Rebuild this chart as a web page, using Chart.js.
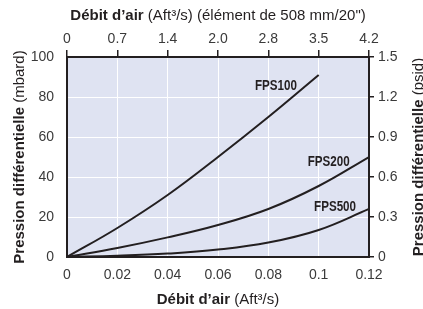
<!DOCTYPE html>
<html>
<head>
<meta charset="utf-8">
<script src="https://cdn.jsdelivr.net/npm/chart.js@4/dist/chart.umd.min.js"></script>
<style>
    html, body { margin: 0; padding: 0; background: #fff; }
    #wrap { width: 423px; height: 309px; position: relative; }
</style>
</head>
<body>
<div id="wrap"><canvas id="pressureChart"></canvas></div>
<script>
// Air flow values (Aft3/s) where each curve was read
const flowFps100 = [0, 0.02, 0.04, 0.06, 0.08, 0.1];
const dpFps100 = [0, 14.5, 31, 50, 70, 91];

const flowFps200 = [0, 0.02, 0.04, 0.06, 0.08, 0.1, 0.12];
const dpFps200 = [0, 4.5, 9.8, 16, 24, 35.5, 50];

const flowFps500 = [0, 0.02, 0.04, 0.06, 0.08, 0.1, 0.12];
const dpFps500 = [0, 0.6, 1.7, 3.7, 7.2, 13.5, 24];

const seriesNames = ['FPS100', 'FPS200', 'FPS500'];
// label anchor in data units (flow, mbard)
const labelFlow = [0.083, 0.104, 0.1065];
const labelDp = [85.5, 47.5, 25];

const bottomTicks = ['0', '0.02', '0.04', '0.06', '0.08', '0.1', '0.12'];
const topTicks = ['0', '0.7', '1.4', '2.0', '2.8', '3.5', '4.2'];
const rightTicks = ['0', '0.3', '0.6', '0.9', '1.2', '1.5'];

const ink = '#231f20';
const tickColor = '#3a3a3a';
const sans = "'Liberation Sans', Arial, sans-serif";

function toPoints(xs, ys) {
    return xs.map((x, i) => ({ x: x, y: ys[i] }));
}

function drawMixed(ctx, parts, cx, cy) {
    // parts: [[text, bold], ...] drawn centred on cx
    let total = 0;
    parts.forEach(p => {
        ctx.font = (p[1] ? 'bold ' : '') + '15px ' + sans;
        total += ctx.measureText(p[0]).width;
    });
    let x = cx - total / 2;
    parts.forEach(p => {
        ctx.font = (p[1] ? 'bold ' : '') + '15px ' + sans;
        ctx.fillText(p[0], x, cy);
        x += ctx.measureText(p[0]).width;
    });
}

const plotBg = {
    id: 'plotBg',
    beforeDraw(chart) {
        const { ctx, chartArea: a } = chart;
        ctx.save();
        ctx.fillStyle = '#dfe3f2';
        ctx.fillRect(a.left, a.top, a.right - a.left, a.bottom - a.top);
        ctx.restore();
    }
};

const annotations = {
    id: 'annotations',
    afterDraw(chart) {
        const { ctx, chartArea: a } = chart;
        const xs = chart.scales.x, ys = chart.scales.y;
        ctx.save();
        ctx.fillStyle = ink;
        ctx.textBaseline = 'middle';

        // curve names, squeezed to look condensed
        ctx.font = 'bold 14px ' + sans;
        ctx.textAlign = 'center';
        seriesNames.forEach((n, i) => {
            ctx.save();
            ctx.translate(xs.getPixelForValue(labelFlow[i]), ys.getPixelForValue(labelDp[i]));
            ctx.scale(0.83, 1);
            ctx.fillText(n, 0, 0);
            ctx.restore();
        });
        ctx.textAlign = 'left';

        const cx = (a.left + a.right) / 2;
        const cy = (a.top + a.bottom) / 2;
        drawMixed(ctx, [['Débit d’air', true], [' (Aft³/s) (élément de 508 mm/20")', false]], cx, 16);
        drawMixed(ctx, [['Débit d’air', true], [' (Aft³/s)', false]], cx, 300);

        ctx.save();
        ctx.translate(20, cy);
        ctx.rotate(-Math.PI / 2);
        drawMixed(ctx, [['Pression différentielle', true], [' (mbard)', false]], 0, 0);
        ctx.restore();

        ctx.save();
        ctx.translate(419, cy);
        ctx.rotate(-Math.PI / 2);
        drawMixed(ctx, [['Pression différentielle', true], [' (psid)', false]], 0, 0);
        ctx.restore();

        ctx.restore();
    }
};

function lineSet(name, xs, ys) {
    return {
        label: name,
        data: toPoints(xs, ys),
        borderColor: ink,
        borderWidth: 2,
        pointRadius: 0,
        fill: false,
        tension: 0.4
    };
}

const tickFont = { family: sans, size: 14 };

new Chart(document.getElementById('pressureChart'), {
    type: 'line',
    data: {
        datasets: [
            lineSet('FPS100', flowFps100, dpFps100),
            lineSet('FPS200', flowFps200, dpFps200),
            lineSet('FPS500', flowFps500, dpFps500)
        ]
    },
    options: {
        responsive: true,
        maintainAspectRatio: false,
        animation: false,
        layout: { padding: 0 },
        plugins: { legend: { display: false }, tooltip: { enabled: false } },
        scales: {
            x: {
                type: 'linear', position: 'bottom', min: 0, max: 0.12,
                ticks: { stepSize: 0.02, padding: 10, color: tickColor, font: tickFont, maxRotation: 0,
                    callback: (v, i) => bottomTicks[i] },
                grid: { color: '#ffffff', lineWidth: 1, drawTicks: false },
                border: { color: ink, width: 2 },
                afterFit: s => { s.height = 52; }
            },
            x2: {
                type: 'linear', position: 'top', min: 0, max: 0.12,
                ticks: { stepSize: 0.02, padding: 2, color: tickColor, font: tickFont, maxRotation: 0,
                    callback: (v, i) => topTicks[i] },
                grid: { drawOnChartArea: false, drawTicks: true, tickLength: 7, color: ink, lineWidth: 1.5 },
                border: { color: ink, width: 2 },
                afterFit: s => { s.height = 57; }
            },
            y: {
                type: 'linear', position: 'left', min: 0, max: 100,
                ticks: { stepSize: 20, padding: 13, color: tickColor, font: tickFont },
                grid: { color: '#ffffff', lineWidth: 1, drawTicks: false },
                border: { color: ink, width: 2 },
                afterFit: s => { s.width = 67; }
            },
            y2: {
                type: 'linear', position: 'right', min: 0, max: 1.5,
                ticks: { stepSize: 0.3, padding: 4, color: tickColor, font: tickFont,
                    callback: (v, i) => rightTicks[i] },
                grid: { drawOnChartArea: false, drawTicks: true, tickLength: 5, color: ink, lineWidth: 1.5 },
                border: { color: ink, width: 2 },
                afterFit: s => { s.width = 54; }
            }
        }
    },
    plugins: [plotBg, annotations]
});
</script>
</body>
</html>
